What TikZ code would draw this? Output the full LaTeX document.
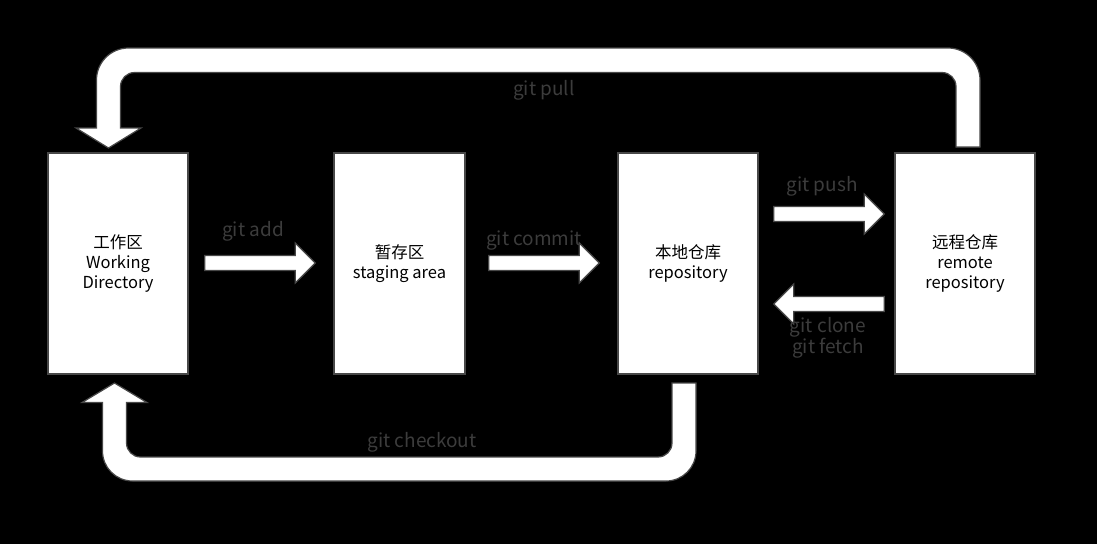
\documentclass[tikz,border=0pt]{standalone}
\usepackage{fontspec}
\setmainfont{Noto Sans CJK SC}
\usetikzlibrary{calc}
\definecolor{edgegray}{RGB}{72,72,72}
\definecolor{labelgray}{RGB}{60,60,60}
\tikzset{
        box/.style={draw=edgegray, line width=1.5pt, fill=white, align=center,
            inner sep=0pt, minimum width=140, minimum height=221,
            font=\fontsize{16.5}{20}\selectfont},
        blockarrow/.style={draw=edgegray, line width=1.2pt, fill=white, line join=miter},
        cmd/.style={text=labelgray, align=center, font=\fontsize{19}{20}\selectfont},
    }
% straight block arrow from #1 to the tip #2
\newcommand\hblock[2]{%
    \draw[blockarrow] ($(#1)+(0,-7.5)$) -- ($(#2)!20pt!(#1)+(0,-7.5)$)
        -- ($(#2)!20pt!(#1)+(0,-20)$) -- (#2) -- ($(#2)!20pt!(#1)+(0,20)$)
        -- ($(#2)!20pt!(#1)+(0,7.5)$) -- ($(#1)+(0,7.5)$) -- cycle;}

\begin{document}
\begin{tikzpicture}[x = 1pt, y = -1pt]
                \fill[black] (0,0) rectangle (1097,544);
                \node[box] (work) at (118,263.5) {工作区\\Working\\Directory};
                \node[box, minimum width=131] (stage) at (399.5,263.5) {暂存区\\staging area};
                \node[box] (repo) at (688,263.5) {本地仓库\\repository};
                \node[box] (remote) at (965,263.5) {远程仓库\\remote\\repository};
                % ends of the straight arrows
                \coordinate (add1) at ($(work.east)+(16,-0.5)$);
                \coordinate (add2) at ($(stage.west)+(-18,-0.5)$);
                \coordinate (com1) at ($(stage.east)+(23,-0.5)$);
                \coordinate (com2) at ($(repo.west)+(-18,-0.5)$);
                \coordinate (push1) at ($(repo.east)+(15,-49.5)$);
                \coordinate (push2) at ($(remote.west)+(-10,-49.5)$);
                \coordinate (clone1) at ($(remote.west)+(-10,40.5)$);
                \coordinate (clone2) at ($(repo.east)+(15,40.5)$);
                \foreach \a/\b in {add1/add2, com1/com2, push1/push2, clone1/clone2}
                    \hblock{\a}{\b};
                % git pull
                \draw[blockarrow] (980,147) [rounded corners=32] -- (980,48) -- (96.5,48)
                    [sharp corners] -- (96.5,128) -- (76,128) -- (108.5,148) -- (141,128) -- (120.5,128)
                    [rounded corners=14] -- (120.5,72.5) -- (956,72.5) [sharp corners] -- (956,147) -- cycle;
                % git checkout
                \draw[blockarrow] (696,383) [rounded corners=30] -- (696,481) -- (102.5,481)
                    [sharp corners] -- (102.5,402.5) -- (82,402.5) -- (114.5,383) -- (147,402.5) -- (126.5,402.5)
                    [rounded corners=14] -- (126.5,457) -- (672,457) [sharp corners] -- (672,383) -- cycle;
                \node[cmd] (pull) at (544,90) {git pull};
                \node[cmd] (add) at (253,231) {git add};
                \node[cmd] (commit) at (534,241) {git commit};
                \node[cmd] (push) at (822,186) {git push};
                \node[cmd] (clone) at (828,338) {git clone\\git fetch};
                \node[cmd] (checkout) at (422,442) {git checkout};
            \end{tikzpicture}
\end{document}
